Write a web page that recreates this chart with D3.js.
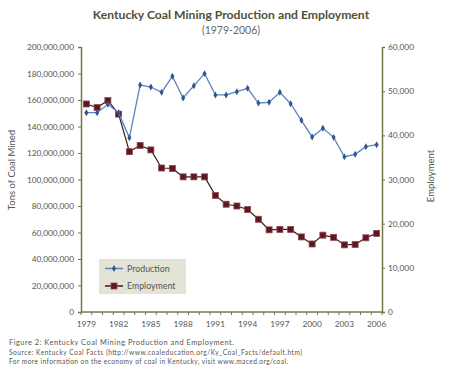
<!DOCTYPE html>
<html><head><meta charset="utf-8">
<script src="https://cdn.jsdelivr.net/npm/d3@7"></script>
<style>body{margin:0;background:#fff}svg{display:block}text{font-family:"Lato","Open Sans",sans-serif}</style>
</head><body><svg id="c" width="450" height="369"></svg>
<script>
const years = d3.range(1979, 2007);
const production = [150.4,150.4,156.8,150.4,131.5,171.3,169.8,165.8,177.9,161.5,170.8,179.9,163.8,163.8,166.3,168.8,157.7,158.3,165.8,157.2,144.7,132.1,138.6,131.8,117.2,119.0,124.8,126.3].map(v=>v*1e6);
const employment = [47100,46300,47900,44800,36300,37700,36700,32600,32500,30600,30600,30600,26400,24400,24000,23200,21000,18600,18700,18700,17000,15400,17400,16900,15200,15300,16800,17800];
const leftTicks = d3.range(0, 200000001, 20000000);
const rightTicks = d3.range(0, 60001, 10000);
const labelYears = [1979,1982,1985,1988,1991,1994,1997,2000,2003,2006];

const svg = d3.select("#c");
const L=81, R=382, T=47, B=312;
const axisCol="#77764a", txtCol="#555";
const x = d3.scaleBand().domain(years).range([L,R]).padding(0);
const yL = d3.scaleLinear().domain([0,200000000]).range([B,T]);
const yR = d3.scaleLinear().domain([0,60000]).range([B,T]);
const cx = d=>x(d)+x.bandwidth()/2;
const fmt = d3.format(",");

// Title
svg.append("text").attr("x",231).attr("y",19).attr("text-anchor","middle").attr("font-size",12.2).attr("font-weight","bold").attr("fill","#4f5038").text("Kentucky Coal Mining Production and Employment");
svg.append("text").attr("x",231).attr("y",34).attr("text-anchor","middle").attr("font-size",10.5).attr("fill","#666").text("(1979-2006)");

// Axes
const gl = svg.append("g").attr("transform",`translate(${L},0)`).call(d3.axisLeft(yL).tickValues(leftTicks).tickFormat(d=>fmt(d)).tickSize(3).tickPadding(4));
const gr = svg.append("g").attr("transform",`translate(${R},0)`).call(d3.axisRight(yR).tickValues(rightTicks).tickFormat(d=>fmt(d)).tickSize(3).tickPadding(3));
const gx = svg.append("g").attr("transform",`translate(0,${B})`);
gx.append("line").attr("x1",L).attr("x2",R).attr("stroke",axisCol).attr("stroke-width",1.5);
gx.selectAll("line.t").data(d3.range(years.length+1)).join("line").attr("class","t")
  .attr("x1",i=>L+i*x.bandwidth()).attr("x2",i=>L+i*x.bandwidth()).attr("y1",0).attr("y2",3).attr("stroke",axisCol);
gx.selectAll("text").data(labelYears).join("text").attr("x",d=>cx(d)).attr("y",15).attr("text-anchor","middle").attr("font-size",8.3).attr("fill",txtCol).text(d=>d);

[gl,gr].forEach(g=>{
  g.select(".domain").attr("stroke",axisCol).attr("stroke-width",1.5);
  g.selectAll(".tick line").attr("stroke",axisCol);
  g.selectAll(".tick text").attr("font-size",8.3).attr("fill",txtCol).attr("font-family","Lato, sans-serif");
});

// Axis titles
svg.append("text").attr("transform","translate(15,170) rotate(-90)").attr("text-anchor","middle").attr("font-size",9.5).attr("fill",txtCol).text("Tons of Coal Mined");
svg.append("text").attr("transform","translate(434,176) rotate(-90)").attr("text-anchor","middle").attr("font-size",9.5).attr("fill",txtCol).text("Employment");

// Employment line
const lineE = d3.line().x((d,i)=>cx(years[i])).y(d=>yR(d));
svg.append("path").datum(employment).attr("d",lineE).attr("fill","none").attr("stroke","#3d1a1c").attr("stroke-width",1.2);
svg.selectAll("rect.e").data(employment).join("rect").attr("class","e")
  .attr("x",(d,i)=>cx(years[i])-3).attr("y",d=>yR(d)-3).attr("width",6).attr("height",6)
  .attr("fill","#5e1620").attr("stroke","#8a4a52").attr("stroke-width",0.8);

// Production line
const lineP = d3.line().x((d,i)=>cx(years[i])).y(d=>yL(d));
svg.append("path").datum(production).attr("d",lineP).attr("fill","none").attr("stroke","#5a83c0").attr("stroke-width",1.3);
svg.selectAll("path.p").data(production).join("path").attr("class","p")
  .attr("d",d3.symbol(d3.symbolDiamond,14)).attr("transform",(d,i)=>`translate(${cx(years[i])},${yL(d)})`)
  .attr("fill","#34558c");

// Legend
const lg = svg.append("g");
lg.append("rect").attr("x",99).attr("y",259).attr("width",87).attr("height",35).attr("fill","#e3e4d6");
lg.append("line").attr("x1",105).attr("x2",123).attr("y1",268.5).attr("y2",268.5).attr("stroke","#5a83c0").attr("stroke-width",1.5);
lg.append("path").attr("d",d3.symbol(d3.symbolDiamond,14)).attr("transform","translate(114,268.5)").attr("fill","#34558c");
lg.append("text").attr("x",127).attr("y",271.5).attr("font-size",8.8).attr("fill",txtCol).text("Production");
lg.append("line").attr("x1",105).attr("x2",123).attr("y1",286).attr("y2",286).attr("stroke","#3d1a1c").attr("stroke-width",1.5);
lg.append("rect").attr("x",111).attr("y",283).attr("width",6).attr("height",6).attr("fill","#5e1620").attr("stroke","#8a4a52").attr("stroke-width",0.8);
lg.append("text").attr("x",127).attr("y",289).attr("font-size",8.8).attr("fill",txtCol).text("Employment");

// Footer
svg.append("text").attr("x",9).attr("y",345).attr("font-size",7.4).attr("fill","#555").attr("textLength",225).attr("lengthAdjust","spacing").text("Figure 2: Kentucky Coal Mining Production and Employment.");
svg.append("text").attr("x",9).attr("y",355).attr("font-size",6.6).attr("fill","#555").attr("textLength",293).attr("lengthAdjust","spacing").text("Source: Kentucky Coal Facts (http://www.coaleducation.org/Ky_Coal_Facts/default.htm)");
svg.append("text").attr("x",9).attr("y",364).attr("font-size",6.6).attr("fill","#555").attr("textLength",279).attr("lengthAdjust","spacing").text("For more information on the economy of coal in Kentucky, visit www.maced.org/coal.");
</script></body></html>
